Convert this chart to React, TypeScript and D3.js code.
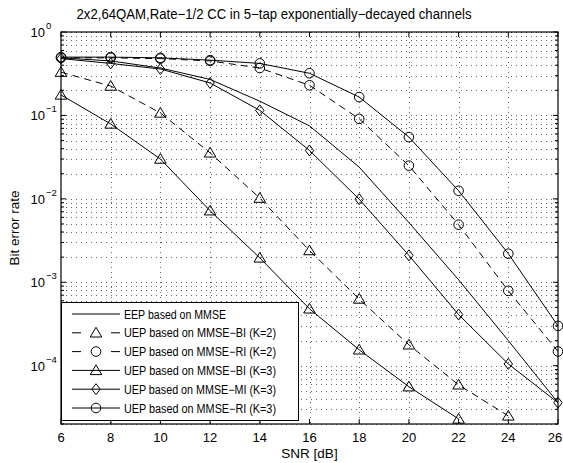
import React from "react";
import * as d3 from "d3";

const snr = [6, 8, 10, 12, 14, 16, 18, 20, 22, 24, 26];
const xTicks = [6, 8, 10, 12, 14, 16, 18, 20, 22, 24, 26];
const yDecades = [0, -1, -2, -3, -4];

const eepMMSE = [0.49, 0.45, 0.37, 0.27, 0.148, 0.075, 0.024, 0.0052, 0.00107, 0.0002, 0.000036];
const biK2 = [0.33, 0.225, 0.107, 0.0356, 0.0102, 0.0024, 0.00063, 0.000178, 0.000059, 0.000025];
const riK2 = [0.49, 0.49, 0.48, 0.45, 0.37, 0.23, 0.091, 0.025, 0.0049, 0.00079, 0.000148];
const biK3 = [0.176, 0.079, 0.03, 0.0072, 0.00196, 0.00048, 0.000155, 0.000056, 0.000023];
const miK3 = [0.48, 0.42, 0.36, 0.245, 0.115, 0.038, 0.0099, 0.0021, 0.00041, 0.000105, 0.000036];
const riK3 = [0.5, 0.5, 0.49, 0.46, 0.42, 0.32, 0.166, 0.055, 0.0125, 0.0022, 0.0003];

const titleText = "2x2,64QAM,Rate\u22121/2 CC in 5\u2212tap exponentially\u2212decayed channels";
const seriesNames = [
  "EEP based on MMSE",
  "UEP based on MMSE\u2212BI (K=2)",
  "UEP based on MMSE\u2212RI (K=2)",
  "UEP based on MMSE\u2212BI (K=3)",
  "UEP based on MMSE\u2212MI (K=3)",
  "UEP based on MMSE\u2212RI (K=3)",
];
const seriesData = [eepMMSE, biK2, riK2, biK3, miK3, riK3];
const seriesMarker = ["none", "triangle", "circle", "triangle", "diamond", "circle"];
const seriesDashed = [false, true, true, false, false, false];

const W = 563, H = 463;
const L = 61, R = 558, T = 32, B = 424;
const FONT = "'Liberation Sans', Arial, sans-serif";

function Marker({ type, x, y }: { type: string; x: number; y: number }) {
  if (type === "circle") return <circle cx={x} cy={y} r={4.8} fill="none" stroke="#000" strokeWidth={1} />;
  if (type === "triangle")
    return <path d={`M${x},${y - 5.5}L${x + 5.8},${y + 4.2}L${x - 5.8},${y + 4.2}Z`} fill="none" stroke="#000" strokeWidth={1} />;
  if (type === "diamond")
    return <path d={`M${x},${y - 5.5}L${x + 4.2},${y}L${x},${y + 5.5}L${x - 4.2},${y}Z`} fill="none" stroke="#000" strokeWidth={1} />;
  return null;
}

export default function App() {
  const x = d3.scaleLinear().domain([6, 26]).range([L, R]);
  const y = d3.scaleLog().domain([2e-5, 1]).range([B, T]);

  const gridY: number[] = [];
  for (let e = -5; e <= 0; e++) {
    for (let m = 1; m <= 9; m++) {
      const v = m * Math.pow(10, e);
      if (v >= 2e-5 && v <= 1) gridY.push(v);
    }
  }

  const line = d3
    .line<number>()
    .x((_, i) => x(snr[i]))
    .y((d) => y(d));

  const legRowY = (i: number) => 314 + i * 18.8;

  return (
    <div style={{ position: "absolute", left: 0, top: 0 }}>
      <svg width={W} height={H} style={{ display: "block", background: "#fff", fontFamily: FONT }}>
        <rect x={0} y={0} width={W} height={H} fill="#fff" />
        <defs>
          <clipPath id="clip">
            <rect x={L} y={T} width={R - L} height={B - T} />
          </clipPath>
        </defs>
        {/* grid */}
        <g stroke="#666" strokeWidth={1} strokeDasharray="1 4">
          {gridY.map((v, i) => (
            <line key={"gy" + i} x1={L} x2={R} y1={Math.round(y(v)) + 0.5} y2={Math.round(y(v)) + 0.5} />
          ))}
          {xTicks.slice(1, -1).map((t) => (
            <line key={"gx" + t} x1={Math.round(x(t)) + 0.5} x2={Math.round(x(t)) + 0.5} y1={T} y2={B} />
          ))}
        </g>
        {/* ticks */}
        <g stroke="#000" strokeWidth={1}>
          {xTicks.map((t) => (
            <g key={"xt" + t}>
              <line x1={x(t)} x2={x(t)} y1={B} y2={B - 5} />
              <line x1={x(t)} x2={x(t)} y1={T} y2={T + 5} />
            </g>
          ))}
          {gridY.map((v, i) => {
            const major = Math.abs(Math.log10(v) - Math.round(Math.log10(v))) < 1e-9;
            const len = major ? 5 : 3;
            return (
              <g key={"yt" + i}>
                <line x1={L} x2={L + len} y1={y(v)} y2={y(v)} />
                <line x1={R} x2={R - len} y1={y(v)} y2={y(v)} />
              </g>
            );
          })}
        </g>
        {/* series */}
        <g clipPath="url(#clip)">
          {seriesData.map((data, si) => (
            <path
              key={"s" + si}
              d={line(data) || ""}
              fill="none"
              stroke="#000"
              strokeWidth={1}
              strokeDasharray={seriesDashed[si] ? "7 5" : undefined}
            />
          ))}
        </g>
        {seriesData.map((data, si) =>
          data.map((v, i) => <Marker key={`m${si}-${i}`} type={seriesMarker[si]} x={x(snr[i])} y={y(v)} />)
        )}
        {/* axes box */}
        <rect x={L} y={T} width={R - L} height={B - T} fill="none" stroke="#000" strokeWidth={1.2} />
        {/* x tick labels */}
        {xTicks.map((t) => (
          <text key={"xl" + t} x={Math.min(x(t), W - 8)} y={442} fontSize={13} textAnchor="middle" fill="#000">
            {t}
          </text>
        ))}
        {/* y tick labels */}
        {yDecades.map((e) => (
          <g key={"yl" + e}>
            <text x={45} y={y(Math.pow(10, e)) + 5} fontSize={13} textAnchor="end" fill="#000">
              10
            </text>
            <text x={46} y={y(Math.pow(10, e)) - 3} fontSize={9.5} textAnchor="start" fill="#000">
              {e === 0 ? "0" : "\u2212" + Math.abs(e)}
            </text>
          </g>
        ))}
        {/* labels */}
        <text x={(L + R) / 2} y={458} fontSize={13.5} textAnchor="middle" fill="#000">
          SNR [dB]
        </text>
        <text
          transform={`translate(19,${(T + B) / 2}) rotate(-90)`}
          fontSize={13.5}
          textAnchor="middle"
          fill="#000"
        >
          Bit error rate
        </text>
        <text x={274} y={19} fontSize={14} textAnchor="middle" fill="#000" textLength={395} lengthAdjust="spacingAndGlyphs">
          {titleText}
        </text>
        {/* legend */}
        <rect x={61.5} y={302.5} width={237} height={118} fill="#fff" stroke="#000" strokeWidth={1} />
        {seriesNames.map((name, i) => (
          <g key={"lg" + i}>
            {seriesDashed[i] ? (
              <g stroke="#000" strokeWidth={1}>
                <line x1={72} x2={81} y1={legRowY(i)} y2={legRowY(i)} />
                <line x1={111} x2={120} y1={legRowY(i)} y2={legRowY(i)} />
              </g>
            ) : (
              <line x1={72} x2={120} y1={legRowY(i)} y2={legRowY(i)} stroke="#000" strokeWidth={1} />
            )}
            <Marker type={seriesMarker[i]} x={96} y={legRowY(i)} />
            <text x={124} y={legRowY(i) + 4.5} fontSize={12} fill="#000" textLength={name.length > 20 ? 152 : 102} lengthAdjust="spacingAndGlyphs">
              {name}
            </text>
          </g>
        ))}
      </svg>
    </div>
  );
}
